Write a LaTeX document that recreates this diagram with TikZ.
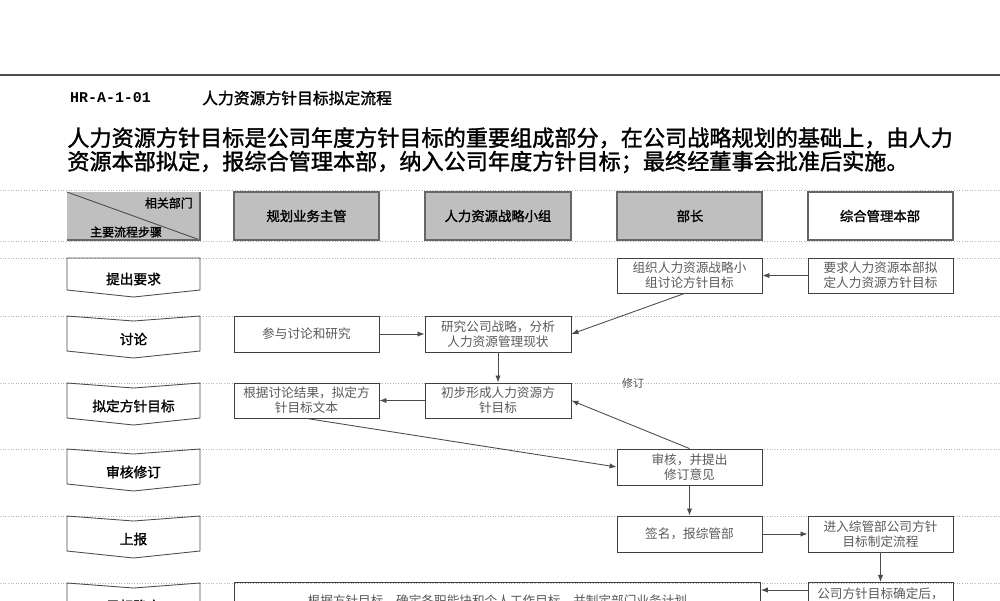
\documentclass[tikz,border=0pt]{standalone}
\usepackage{fontspec}
\setmainfont{Noto Sans CJK SC}
\setmonofont{Liberation Mono}
\newfontfamily\cjkb[FakeBold=1.5]{Noto Sans CJK SC}
\usetikzlibrary{arrows.meta}
\begin{document}
\begin{tikzpicture}[x=0.02cm,y=-0.02cm,
  bx/.style={draw=black!75,line width=0.5pt,align=center,font=\fontsize{7.2pt}{8.6pt}\selectfont,text=black!65,inner sep=1pt},
  hdt/.style={font=\cjkb\fontsize{7.6pt}{8pt}\selectfont},
  stp/.style={draw=black!70,line width=0.5pt},
  stt/.style={font=\cjkb\fontsize{7.8pt}{8pt}\selectfont},
  arr/.style={draw=black!70,line width=0.5pt,-{Latex[length=4pt,width=3pt]}},
  rl/.style={draw=black!30,line width=0.5pt,densely dotted}]
\useasboundingbox (0,0) rectangle (1000,600);
\clip (0,0) rectangle (1000,600);
\draw[black!70,line width=0.6pt] (0,75) -- (1000,75);
\node[anchor=west,font=\ttfamily\bfseries\fontsize{8.5pt}{9pt}\selectfont] (code) at (64,98) {HR-A-1-01};
\node[anchor=west,font=\cjkb\fontsize{9pt}{9pt}\selectfont] (ttl) at (196,98) {人力资源方针目标拟定流程};
\node[anchor=north west,align=left,font=\cjkb\fontsize{12.6pt}{13.4pt}\selectfont,inner sep=0pt] (intro) at (67,127) {人力资源方针目标是公司年度方针目标的重要组成部分，在公司战略规划的基础上，由人力\\资源本部拟定，报综合管理本部，纳入公司年度方针目标；最终经董事会批准后实施。};
% row lines
\foreach \y in {190,241,258,316,383,449,516,583} \draw[rl] (0,\y) -- (1000,\y);
% header
\fill[black!25] (67,192) rectangle (200,240);
\draw[black!70,line width=0.5pt] (67,192) -- (200,240);
\draw[black!60,line width=0.6pt] (67,240) -- (200,240) -- (200,192);
\node[font=\cjkb\fontsize{6.8pt}{7pt}\selectfont,anchor=east] (h0a) at (199,203) {相关部门};
\node[font=\cjkb\fontsize{6.8pt}{7pt}\selectfont,anchor=west] (h0b) at (84,232) {主要流程步骤};
\draw[black!60,line width=0.6pt,fill=black!25] (234,192) rectangle (379,240);
\node[hdt] (h1) at (306.5,216) {规划业务主管};
\draw[black!60,line width=0.6pt,fill=black!25] (425,192) rectangle (571,240);
\node[hdt] (h2) at (498,216) {人力资源战略小组};
\draw[black!60,line width=0.6pt,fill=black!25] (617,192) rectangle (762,240);
\node[hdt] (h3) at (690,216) {部长};
\draw[black!60,line width=0.6pt] (808,192) rectangle (953,240);
\node[hdt] (h4) at (880,216) {综合管理本部};
% steps
\draw[stp] (67,258) -- (200,258) -- (200,290) -- (133.5,297) -- (67,290) -- cycle;
\node[stt] (s1) at (133.5,279) {提出要求};
\foreach \t/\n/\lab in {316/s2/讨论,383/s3/拟定方针目标,449/s4/审核修订,516/s5/上报,583/s6/目标确定}{
  \draw[stp] (67,\t) -- (133.5,\t+5) -- (200,\t) -- (200,\t+35) -- (133.5,\t+42) -- (67,\t+35) -- cycle;
  \node[stt] (\n) at (133.5,\t+23) {\lab};
}
% boxes
\node[bx,minimum width=2.9cm,minimum height=0.7cm] (A) at (689.5,275.5) {组织人力资源战略小\\组讨论方针目标};
\node[bx,minimum width=2.9cm,minimum height=0.7cm] (B) at (880.5,275.5) {要求人力资源本部拟\\定人力资源方针目标};
\node[bx,minimum width=2.9cm,minimum height=0.72cm] (C) at (306.5,334) {参与讨论和研究};
\node[bx,minimum width=2.92cm,minimum height=0.72cm] (D) at (498,334) {研究公司战略，分析\\人力资源管理现状};
\node[bx,minimum width=2.9cm,minimum height=0.7cm] (E) at (306.5,400.5) {根据讨论结果，拟定方\\针目标文本};
\node[bx,minimum width=2.92cm,minimum height=0.7cm] (F) at (498,400.5) {初步形成人力资源方\\针目标};
\node[bx,minimum width=2.9cm,minimum height=0.72cm] (G) at (689.5,467) {审核，并提出\\修订意见};
\node[bx,minimum width=2.9cm,minimum height=0.72cm] (H) at (689.5,534) {签名，报综管部};
\node[bx,minimum width=2.9cm,minimum height=0.72cm] (I) at (880.5,534) {进入综管部公司方针\\目标制定流程};
\node[bx,minimum width=2.9cm,minimum height=0.9cm,anchor=north,text depth=14pt] (J) at (880.5,582) {公司方针目标确定后，};
\node[bx,minimum width=10.52cm,minimum height=1cm,anchor=north west,text depth=8pt] (K) at (234,582) {根据方针目标，确定各职能块和个人工作目标，并制定部门业务计划};
\node[font=\fontsize{6.2pt}{7pt}\selectfont,text=black!70] (rev) at (633,383) {修订};
% arrows
\draw[arr] (B) -- (A);
\draw[arr] (A.south) ++(-5,0) coordinate (a1) -- (D.east);
\draw[arr] (C) -- (D);
\draw[arr] (D) -- (F);
\draw[arr] (F) -- (E);
\draw[arr] (E.south) -- (G.west);
\draw[arr] (G.north) -- (F.east);
\draw[arr] (G) -- (H);
\draw[arr] (H) -- (I);
\draw[arr] (I) -- (J);
\draw[arr] (J.west |- 0,590) coordinate (j1) -- (K.east |- j1);
\end{tikzpicture}
\end{document}
